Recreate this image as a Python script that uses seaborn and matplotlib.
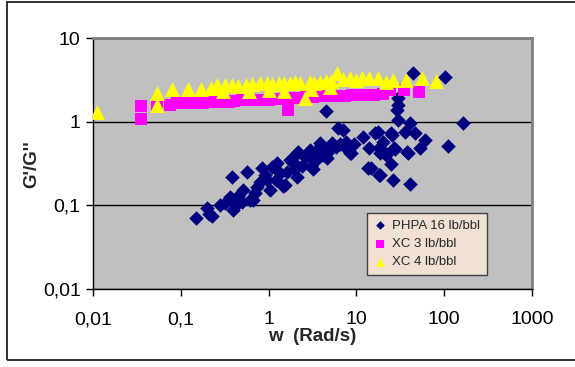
import matplotlib
matplotlib.use("Agg")
import matplotlib.pyplot as plt
from matplotlib.patches import Rectangle
from matplotlib.ticker import NullLocator
import seaborn as sns
import pandas as pd

# ---------------- data ----------------
phpa_w = [0.15, 0.21, 0.20, 0.225, 0.38, 0.32, 0.39, 0.36, 0.56, 0.66, 0.61, 0.51,
          0.74, 0.84, 0.95, 1.03, 1.24, 1.34, 1.54, 1.74, 2.0, 2.15, 2.6, 2.95,
          3.2, 3.5, 4.0, 4.6, 0.8, 1.1, 1.47, 2.1, 2.1, 3.0, 3.8, 4.6, 5.3, 6.2,
          7.0, 8.5, 12, 14.5, 16.5, 18, 18.5, 21, 25, 25, 26, 27, 30, 29, 30, 30,
          35.8, 41, 41, 39, 46, 53, 60, 110, 163, 4.5, 44, 102, 17.5, 20, 18.5,
          14, 21.5, 7.6, 5.1, 8.7, 4.6, 13.5, 18.3, 27.5, 38, 25.5,
          0.45, 0.5, 0.7, 0.9, 1.2, 1.6, 1.9, 2.4, 2.8, 3.5, 4.2, 5.8, 6.5, 7.5,
          9.5, 0.28, 0.42]
phpa_g = [0.071, 0.078, 0.093, 0.075, 0.22, 0.107, 0.088, 0.126, 0.25, 0.117, 0.116, 0.153,
          0.167, 0.28, 0.20, 0.153, 0.32, 0.245, 0.176, 0.35, 0.27, 0.44, 0.38, 0.46,
          0.27, 0.35, 0.53, 0.43, 0.19, 0.29, 0.17, 0.43, 0.22, 0.30, 0.56, 0.37, 0.56, 0.85,
          0.80, 0.43, 0.66, 0.28, 0.74, 0.49, 0.23, 0.42, 0.74, 0.31, 0.20, 0.49, 1.06, 1.38, 1.6, 1.95,
          0.76, 0.98, 0.18, 0.43, 0.74, 0.49, 0.61, 0.52, 0.98, 1.35, 3.87, 3.46, 0.76, 0.58, 0.43,
          0.49, 0.40, 0.58, 0.50, 0.43, 0.44, 0.28, 0.23, 0.475, 0.44, 0.70,
          0.13, 0.11, 0.14, 0.23, 0.20, 0.25, 0.33, 0.30, 0.40, 0.45, 0.40, 0.50, 0.55, 0.50,
          0.55, 0.10, 0.10]

xc3_w = [0.035, 0.035, 0.054, 0.075, 0.09, 0.11, 0.13, 0.15, 0.18, 0.21, 0.25, 0.3,
         0.35, 0.4, 0.5, 0.6, 0.7, 0.85, 1.0, 1.2, 1.66, 1.5, 1.8, 2.2, 2.7, 3.2,
         4.0, 5.0, 6.0, 7.5, 9.0, 11, 13, 16, 20, 24, 35, 52]
xc3_g = [1.56, 1.09, 1.60, 1.60, 1.68, 1.70, 1.70, 1.72, 1.70, 1.72, 1.72, 1.72,
         1.75, 1.80, 1.82, 1.85, 1.82, 1.85, 1.85, 1.88, 1.38, 1.90, 1.92, 1.95, 2.0, 2.0,
         2.02, 2.05, 2.02, 2.05, 2.1, 2.08, 2.1, 2.1, 2.15, 2.4, 2.4, 2.3]

xc4_w = [0.011, 0.054, 0.054, 0.08, 0.12, 0.17, 0.22, 0.26, 0.32, 0.38, 0.45, 0.55,
         0.65, 0.8, 0.95, 1.1, 1.3, 1.5, 1.74, 2.0, 2.3, 2.6, 2.97, 3.3, 3.8, 4.5,
         5.2, 6.0, 7.0, 8.4, 10, 11.5, 14, 17.5, 22, 26, 37, 56, 81,
         0.3, 0.6, 1.0, 1.5, 3.0, 5.0]
xc4_g = [1.32, 2.2, 1.6, 2.5, 2.5, 2.5, 2.55, 2.75, 2.75, 2.75, 2.7, 2.75,
         2.85, 2.9, 2.9, 2.85, 2.95, 2.9, 2.93, 3.0, 2.95, 1.95, 3.0, 2.9, 3.0, 3.05,
         3.1, 3.86, 3.3, 3.36, 3.2, 3.36, 3.36, 3.36, 3.0, 3.2, 3.2, 3.36, 3.1,
         2.35, 2.35, 2.4, 2.35, 2.5, 2.6]

labels = ["PHPA 16 lb/bbl", "XC 3 lb/bbl", "XC 4 lb/bbl"]
x_ticks = [0.01, 0.1, 1, 10, 100, 1000]
x_ticklabels = ["0,01", "0,1", "1", "10", "100", "1000"]
y_ticks = [0.01, 0.1, 1, 10]
y_ticklabels = ["0,01", "0,1", "1", "10"]

# ---------------- style ----------------
sns.set_style("ticks")
plt.rcParams["font.family"] = ["Liberation Sans", "DejaVu Sans"]

df_p = pd.DataFrame({"w": phpa_w, "G": phpa_g, "series": labels[0]})
df_3 = pd.DataFrame({"w": xc3_w, "G": xc3_g, "series": labels[1]})
df_4 = pd.DataFrame({"w": xc4_w, "G": xc4_g, "series": labels[2]})

fig = plt.figure(figsize=(5.75, 3.67), dpi=100)
ax = fig.add_axes([0.162, 0.2125, 0.763, 0.683])
ax.set_facecolor("#C0C0C0")

sns.scatterplot(data=df_p, x="w", y="G", ax=ax, color="#000080", marker="D",
                s=55, linewidth=0, label=labels[0], zorder=3)
sns.scatterplot(data=df_3, x="w", y="G", ax=ax, color="#FF00FF", marker="s",
                s=72, linewidth=0, label=labels[1], zorder=4)
sns.scatterplot(data=df_4, x="w", y="G", ax=ax, color="#FFFF00", marker="^",
                s=115, linewidth=0, label=labels[2], zorder=5)

ax.set_xscale("log")
ax.set_yscale("log")
ax.set_xlim(0.01, 1000)
ax.set_ylim(0.01, 10)
ax.set_xticks(x_ticks)
ax.set_xticklabels(x_ticklabels)
ax.set_yticks(y_ticks)
ax.set_yticklabels(y_ticklabels)
ax.xaxis.set_minor_locator(NullLocator())
ax.yaxis.set_minor_locator(NullLocator())
ax.tick_params(axis="both", which="major", direction="out", length=5, width=1,
               color="black", labelsize=14, labelcolor="black")
ax.tick_params(axis="x", pad=11)
ax.tick_params(axis="y", pad=4)

ax.yaxis.grid(True, color="black", linewidth=1)
ax.xaxis.grid(False)
ax.set_axisbelow(True)

for side in ["left", "bottom"]:
    ax.spines[side].set_color("black")
    ax.spines[side].set_linewidth(1)
for side in ["top", "right"]:
    ax.spines[side].set_visible(True)
    ax.spines[side].set_color("#808080")
    ax.spines[side].set_linewidth(2)

ax.set_xlabel("w  (Rad/s)", fontsize=13.5, fontweight="bold", labelpad=0)
ax.set_ylabel("G'/G''", fontsize=13.5, fontweight="bold", labelpad=2)

leg = ax.legend(loc="upper left", bbox_to_anchor=(0.624, 0.303), frameon=True,
                fancybox=False, facecolor="#F0E1D2", edgecolor="#404040",
                fontsize=9.5, markerscale=0.6, handlelength=1.0, handletextpad=0.4,
                borderpad=0.5, labelspacing=0.45, borderaxespad=0)
leg.get_frame().set_linewidth(1)
leg.get_frame().set_alpha(1)

fig.add_artist(Rectangle((7 / 575, 7 / 367), 1.2, 0.975, fill=False,
                         edgecolor="#202020", linewidth=1.3,
                         transform=fig.transFigure))

fig.savefig("out.png", dpi=100)
